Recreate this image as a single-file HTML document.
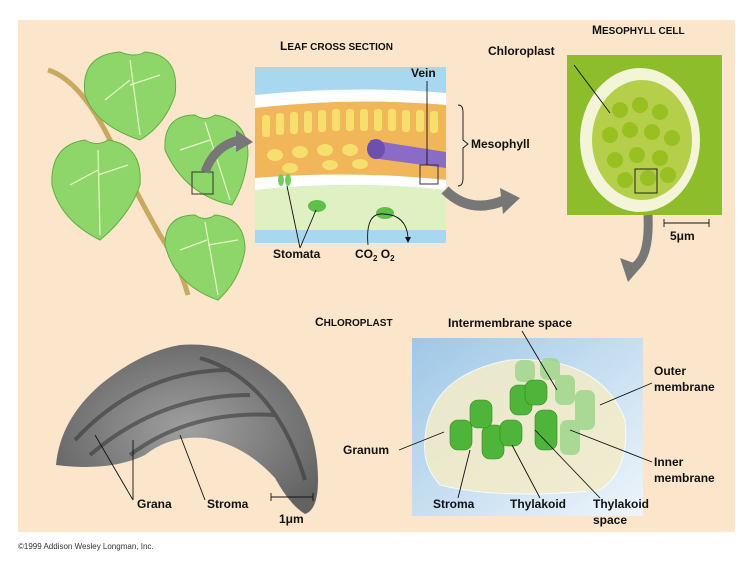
<!DOCTYPE html>
<html><head><meta charset="utf-8"><style>
body{margin:0;background:#fff;}
svg{display:block;font-family:"Liberation Sans",Arial,sans-serif;}
.l{font-size:12px;font-weight:bold;fill:#111;}
.ln{stroke:#111;stroke-width:0.9;fill:none;}
</style></head><body>
<svg width="750" height="564" viewBox="0 0 750 564">
<defs>
<linearGradient id="bg3" x1="0" y1="0" x2="1" y2="1"><stop offset="0" stop-color="#9ec7e6"/><stop offset="0.6" stop-color="#cfe3f3"/><stop offset="1" stop-color="#eef5fb"/></linearGradient>
<radialGradient id="em" cx="0.5" cy="0.5" r="0.6"><stop offset="0" stop-color="#a0a0a0"/><stop offset="1" stop-color="#626262"/></radialGradient>
</defs>
<rect x="18" y="20" width="717" height="512" fill="#fbe6cc"/>
<text x="280" y="50" class="l" font-size="13">L<tspan font-size="10">EAF CROSS SECTION</tspan></text>
<text x="592" y="34" class="l" font-size="13">M<tspan font-size="10">ESOPHYLL CELL</tspan></text>
<text x="315" y="326" class="l" font-size="13">C<tspan font-size="10">HLOROPLAST</tspan></text>
<!-- branch -->
<path d="M48 70 Q80 80 110 140 Q140 200 160 235 Q180 265 188 295" stroke="#c9a860" stroke-width="5" fill="none"/>
<g fill="#8fd66a" stroke="#5fae3e" stroke-width="1">
<path d="M85 95 Q80 55 120 52 Q135 58 145 52 Q180 55 175 95 Q165 125 140 140 Q95 125 85 95Z"/>
<path d="M52 185 Q50 145 85 140 Q97 147 108 140 Q143 145 140 185 Q130 215 100 240 Q60 220 52 185Z"/>
<path d="M165 150 Q163 115 195 115 Q205 122 215 115 Q248 120 248 155 Q245 185 232 205 Q185 195 165 150Z"/>
<path d="M165 245 Q165 215 195 215 Q205 222 215 215 Q245 218 245 250 Q240 280 218 300 Q175 285 165 245Z"/>
</g>
<g stroke="#e6f6c8" stroke-width="1.2" fill="none">
<path d="M130 60 L140 135 M130 80 L105 100 M130 85 L160 75 M98 150 L100 235 M98 170 L70 185 M98 175 L128 165 M205 122 L230 200 M210 140 L180 150 M212 150 L240 145 M205 222 L218 295 M207 240 L180 250 M208 245 L238 240"/>
</g>
<rect x="192" y="172" width="21" height="22" fill="none" stroke="#333"/>
<path d="M205 172 Q215 145 240 140" stroke="#777" stroke-width="9" fill="none"/>
<polygon points="236,130 253,142 236,152" fill="#777"/>
<!-- leaf cross section -->
<rect x="255" y="67" width="191" height="176" fill="#a8d8f0"/>
<path d="M255 95 Q350 85 446 93 L446 105 Q350 97 255 108Z" fill="#fff"/>
<path d="M255 108 Q350 97 446 105 L446 180 Q350 170 255 178Z" fill="#f1b65a"/>
<g fill="#f7df6e">
<rect x="262" y="115" width="8" height="22" rx="3"/><rect x="276" y="113" width="8" height="22" rx="3"/><rect x="290" y="112" width="8" height="22" rx="3"/><rect x="304" y="111" width="8" height="22" rx="3"/><rect x="318" y="110" width="8" height="22" rx="3"/><rect x="332" y="109" width="8" height="22" rx="3"/><rect x="346" y="109" width="8" height="22" rx="3"/><rect x="360" y="109" width="8" height="22" rx="3"/><rect x="374" y="109" width="8" height="22" rx="3"/><rect x="388" y="109" width="8" height="22" rx="3"/><rect x="402" y="110" width="8" height="22" rx="3"/><rect x="416" y="110" width="8" height="22" rx="3"/><rect x="430" y="111" width="8" height="22" rx="3"/>
<ellipse cx="275" cy="155" rx="8" ry="6"/><ellipse cx="300" cy="152" rx="8" ry="6"/><ellipse cx="325" cy="150" rx="8" ry="6"/><ellipse cx="350" cy="150" rx="8" ry="6"/><ellipse cx="290" cy="168" rx="8" ry="5"/><ellipse cx="330" cy="165" rx="8" ry="5"/><ellipse cx="360" cy="164" rx="8" ry="5"/>
</g>
<path d="M370 140 L446 152 L446 168 L372 158Z" fill="#8a6bc6"/>
<ellipse cx="376" cy="149" rx="9" ry="10" fill="#6d4fb0"/>
<path d="M255 178 Q350 170 446 180 L446 190 Q350 180 255 190Z" fill="#fff"/>
<path d="M255 190 Q350 180 446 190 L446 230 L255 230Z" fill="#dff0c2"/>
<ellipse cx="281" cy="180" rx="3" ry="6" fill="#6fcf5a"/><ellipse cx="288" cy="180" rx="3" ry="6" fill="#6fcf5a"/>
<ellipse cx="317" cy="206" rx="9" ry="6" fill="#5fbf4a"/><ellipse cx="385" cy="213" rx="9" ry="6" fill="#5fbf4a"/>
<rect x="420" y="165" width="18" height="19" fill="none" stroke="#333"/>
<text x="411" y="77" class="l">Vein</text>
<path d="M427 81 L427 165" class="ln"/>
<path d="M458 105 Q463 105 463 112 L463 140 L468 144 L463 148 L463 178 Q463 186 458 186" class="ln"/>
<text x="471" y="148" class="l">Mesophyll</text>
<text x="273" y="258" class="l">Stomata</text>
<path d="M300 248 L287 186 M300 248 L316 210" class="ln"/>
<text x="355" y="258" class="l">CO<tspan font-size="8" dy="3">2</tspan><tspan dy="-3">  O</tspan><tspan font-size="8" dy="3">2</tspan></text>
<path d="M368 245 Q365 212 384 214 Q406 215 408 237" class="ln"/>
<polygon points="405,237 411,237 408,243" fill="#111"/>
<path d="M445 190 Q470 215 505 200" stroke="#777" stroke-width="10" fill="none"/>
<polygon points="500,188 520,198 503,214" fill="#777"/>
<!-- mesophyll cell -->
<rect x="567" y="55" width="155" height="160" fill="#8dbd2a"/>
<ellipse cx="640" cy="140" rx="60" ry="72" fill="#f3f4d8"/>
<ellipse cx="642" cy="140" rx="50" ry="60" fill="#b6cf4a"/>
<g fill="#98c020">
<circle cx="620" cy="110" r="8"/><circle cx="640" cy="105" r="8"/><circle cx="660" cy="112" r="8"/><circle cx="610" cy="135" r="8"/><circle cx="630" cy="130" r="8"/><circle cx="652" cy="132" r="8"/><circle cx="672" cy="138" r="8"/><circle cx="615" cy="160" r="8"/><circle cx="637" cy="155" r="8"/><circle cx="660" cy="158" r="8"/><circle cx="625" cy="180" r="8"/><circle cx="648" cy="178" r="8"/><circle cx="668" cy="175" r="8"/>
</g>
<rect x="635" y="169" width="22" height="24" fill="none" stroke="#222"/>
<text x="488" y="55" class="l">Chloroplast</text>
<path d="M574 65 L610 113" class="ln"/>
<path d="M664 223 L709 223 M664 219 L664 227 M709 219 L709 227" class="ln"/>
<text x="670" y="240" class="l" font-size="11">5μm</text>
<path d="M648 215 Q650 260 632 268" stroke="#777" stroke-width="9" fill="none"/>
<polygon points="620,258 628,282 642,266" fill="#777"/>
<!-- EM chloroplast -->
<path d="M56 465 Q60 420 100 385 Q140 352 180 345 Q240 340 285 385 Q318 425 318 480 Q318 510 305 514 Q290 505 275 478 Q245 445 205 438 Q170 435 145 455 Q110 472 56 465Z" fill="url(#em)"/>
<g stroke="#333" stroke-width="4" fill="none" opacity="0.55">
<path d="M75 440 Q140 370 230 370 M90 455 Q160 395 250 395 M130 455 Q190 410 275 415 M200 358 Q275 380 305 480"/>
</g>
<text x="137" y="508" class="l">Grana</text>
<text x="207" y="508" class="l">Stroma</text>
<path d="M133 500 L95 435 M133 500 L133 440 M205 500 L180 435" class="ln"/>
<path d="M271 497 L313 497 M271 493 L271 501 M313 493 L313 501" class="ln"/>
<text x="279" y="523" class="l" font-size="11">1μm</text>
<!-- 3D chloroplast -->
<rect x="412" y="338" width="231" height="178" fill="url(#bg3)"/>
<path d="M425 440 Q428 375 510 360 Q600 355 625 420 Q630 470 600 490 Q500 500 440 485 Q422 465 425 440Z" fill="#f4ecc8" opacity="0.85" stroke="#fff"/>
<g fill="#9fd78c" opacity="0.85">
<rect x="555" y="375" width="20" height="30" rx="7"/><rect x="575" y="390" width="20" height="40" rx="7"/><rect x="560" y="420" width="20" height="35" rx="7"/><rect x="515" y="360" width="20" height="22" rx="7"/><rect x="540" y="358" width="20" height="22" rx="7"/>
</g>
<g fill="#4fb43a" stroke="#2f8a22" stroke-width="0.6">
<rect x="450" y="420" width="22" height="30" rx="8"/><rect x="482" y="425" width="22" height="34" rx="8"/><rect x="470" y="400" width="22" height="28" rx="8"/><rect x="510" y="385" width="22" height="30" rx="8"/><rect x="535" y="410" width="22" height="40" rx="8"/><rect x="500" y="420" width="22" height="26" rx="8"/><rect x="525" y="380" width="22" height="25" rx="8"/>
</g>
<text x="448" y="327" class="l">Intermembrane space</text>
<path d="M522 331 L557 390" class="ln"/>
<text x="654" y="375" class="l">Outer</text><text x="654" y="391" class="l">membrane</text>
<path d="M652 383 L600 405" class="ln"/>
<text x="654" y="466" class="l">Inner</text><text x="654" y="482" class="l">membrane</text>
<path d="M652 462 L570 430" class="ln"/>
<text x="343" y="454" class="l">Granum</text>
<path d="M399 450 L444 432" class="ln"/>
<text x="433" y="508" class="l">Stroma</text>
<path d="M458 498 L470 450" class="ln"/>
<text x="510" y="508" class="l">Thylakoid</text>
<path d="M540 498 L512 445" class="ln"/>
<text x="593" y="508" class="l">Thylakoid</text><text x="593" y="524" class="l">space</text>
<path d="M600 498 L535 430" class="ln"/>
<text x="18" y="549" font-size="8" fill="#333">©1999 Addison Wesley Longman, Inc.</text>
</svg>
</body></html>
